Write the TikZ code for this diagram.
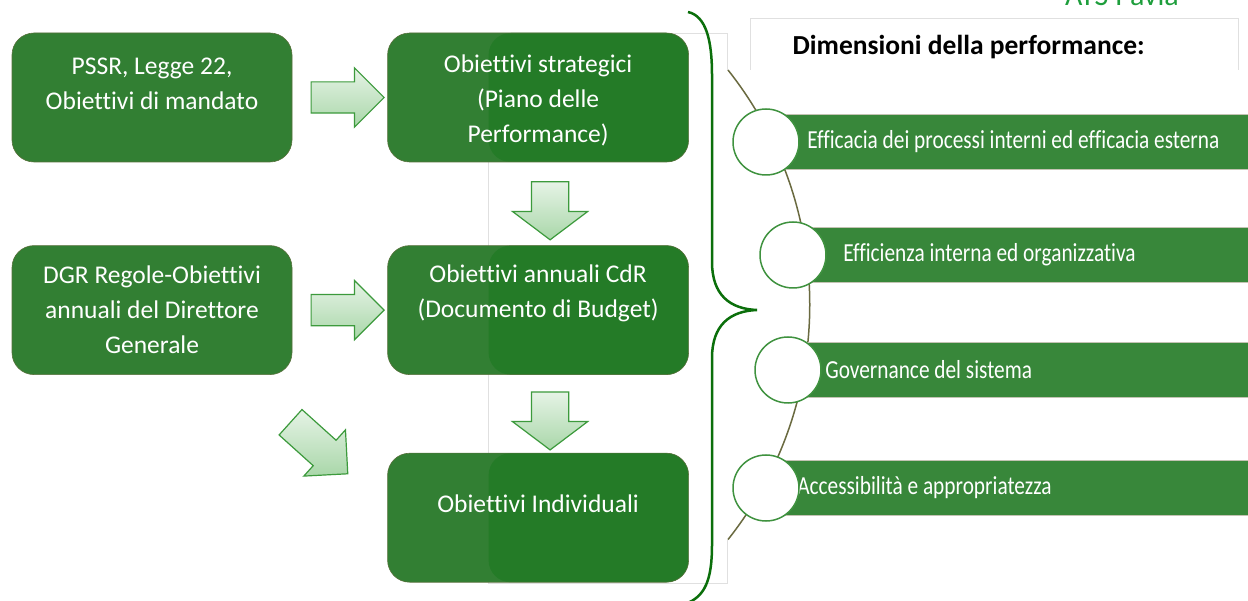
\documentclass[tikz,border=0pt]{standalone}
\usepackage{fontspec}
\setmainfont{Carlito}[Ligatures=NoCommon]
\newfontfamily\barfont[FakeStretch=0.82,Ligatures=NoCommon]{Carlito}
\usetikzlibrary{positioning,calc,shapes.arrows}
\definecolor{boxgreen}{HTML}{327F33}
\definecolor{boxdark}{HTML}{247B27}
\definecolor{boxedge}{HTML}{56703A}
\definecolor{bargreen}{HTML}{38873A}
\definecolor{circgreen}{HTML}{3F923F}
\definecolor{bracegreen}{HTML}{0B6F0B}
\definecolor{arcolive}{HTML}{6A6A40}
\definecolor{arrowlight}{HTML}{E6F3E6}
\definecolor{arrowmid}{HTML}{A9D7A9}
\definecolor{arrowedge}{HTML}{3C9A3C}
\definecolor{atsgreen}{HTML}{1E9E3C}

\begin{document}
\begin{tikzpicture}[x=1pt,y=-1pt,node distance=95pt,semithick]
  \tikzstyle{box}=[rectangle,rounded corners=22pt,fill=boxgreen,draw=boxedge,
    text=white,align=center,font=\fontsize{25.5}{35}\selectfont,
    minimum width=280pt,minimum height=129pt,inner sep=0pt]
  \tikzstyle{midbox}=[box,minimum width=301pt,
    path picture={\fill[boxdark] ([xshift=101pt]path picture bounding box.north west)
      rectangle (path picture bounding box.south east);}]
  \tikzstyle{fatarrow}=[single arrow,draw=arrowedge,line width=1.2pt,
    top color=arrowlight,bottom color=arrowmid,inner sep=15pt,minimum width=0pt,
    minimum height=73pt,single arrow head extend=14pt]
  \tikzstyle{downarrow}=[fatarrow,rotate=-90,inner sep=18pt,minimum height=58pt,
    single arrow head extend=19pt,single arrow tip angle=106]
  \tikzstyle{bar}=[rectangle,fill=bargreen,draw=arcolive!40,line width=.6pt,
    minimum width=500pt,minimum height=55pt,anchor=west,inner sep=0pt]
  \tikzstyle{bartext}=[anchor=west,inner sep=0pt,text=white,
    font=\barfont\fontsize{26}{30}\selectfont]
  \tikzstyle{dot}=[circle,fill=white,draw=circgreen,line width=1.5pt,
    minimum size=66pt,inner sep=0pt]

  \clip (0,0) rectangle (1248,601);
  \fill[white] (0,0) rectangle (1248,601);

  % frame of the inserted picture
  \draw[black!12,thin] (727,70) -- (727,33) -- (488,33) -- (488,583)
    -- (727,583) -- (727,540);

  \node[box,text height=25pt,text depth=0pt] (pssr) at (152,97.5)
    {PSSR, Legge 22,\\Obiettivi di mandato};
  \node[box] (dgr) [below=83pt of pssr] {DGR Regole-Obiettivi\\annuali del Direttore\\Generale};
  \node[midbox,text height=91pt,text depth=0pt] (strat) [right=95pt of pssr]
    {Obiettivi strategici\\(Piano delle\\Performance)};
  \node[midbox,text height=15pt,text depth=0pt] (annual) [right=95pt of dgr]
    {Obiettivi annuali CdR\\(Documento di Budget)};
  \node[midbox,text height=0pt,text depth=11pt] (indiv) [below=78pt of annual]
    {Obiettivi Individuali};

  \node[fatarrow] (a1) at ($(pssr.east)!0.5!(strat.west)$) {};
  \node[fatarrow] (a2) at ($(dgr.east)!0.5!(annual.west)$) {};
  \node[downarrow] (a3) at ($(strat.south)!0.5!(annual.north)+(12,0)$) {};
  \node[downarrow] (a4) at ($(annual.south)!0.5!(indiv.north)+(12,0)$) {};
  \node[fatarrow,rotate=-42,inner sep=16.5pt,minimum height=77pt]
    (a5) at ($(dgr.south east)!0.5!(indiv.west)+(-27,-4)$) {};

  % dimensions of the performance
  \draw[black!12,thin] (750,70) -- (750,18) -- (1238,18) -- (1238,70);
  \node[anchor=west,font=\bfseries\fontsize{27.5}{30}\selectfont] (dim) at (789,47)
    {Dimensioni della performance:};
  \node[anchor=base,text=atsgreen,font=\fontsize{30}{30}\selectfont] (ats) at (1122,6) {ATS Pavia};

  \draw[arcolive,line width=1.5pt] (728,70) arc[start angle=38.4,end angle=-38.4,radius=378pt];

  \node[bar] (bar1) at (766,142) {};
  \node[bar] (bar2) at (793,255) {};
  \node[bar] (bar3) at (788,370) {};
  \node[bar] (bar4) at (766,488) {};
  \node[bartext] (t1) at ([xshift=41pt]bar1.west) {Efficacia dei processi interni ed efficacia esterna};
  \node[bartext] (t2) at ([xshift=50pt]bar2.west) {Efficienza interna ed organizzativa};
  \node[bartext] (t3) at ([xshift=37pt]bar3.west) {Governance del sistema};
  \node[bartext] (t4) at ([xshift=31pt]bar4.west) {Accessibilità e appropriatezza};
  \node[dot] (c1) at (bar1.west) {};
  \node[dot] (c2) at (bar2.west) {};
  \node[dot] (c3) at (bar3.west) {};
  \node[dot] (c4) at (bar4.west) {};

  % brace
  \draw[bracegreen,line width=2.5pt] (688,12) .. controls (706,16) and (712,40) .. (712,75)
    -- (712,262) .. controls (712,295) and (730,309) .. (757,310)
    .. controls (730,311) and (712,325) .. (712,358)
    -- (712,545) .. controls (712,580) and (705,597) .. (685,604);
\end{tikzpicture}
\end{document}
